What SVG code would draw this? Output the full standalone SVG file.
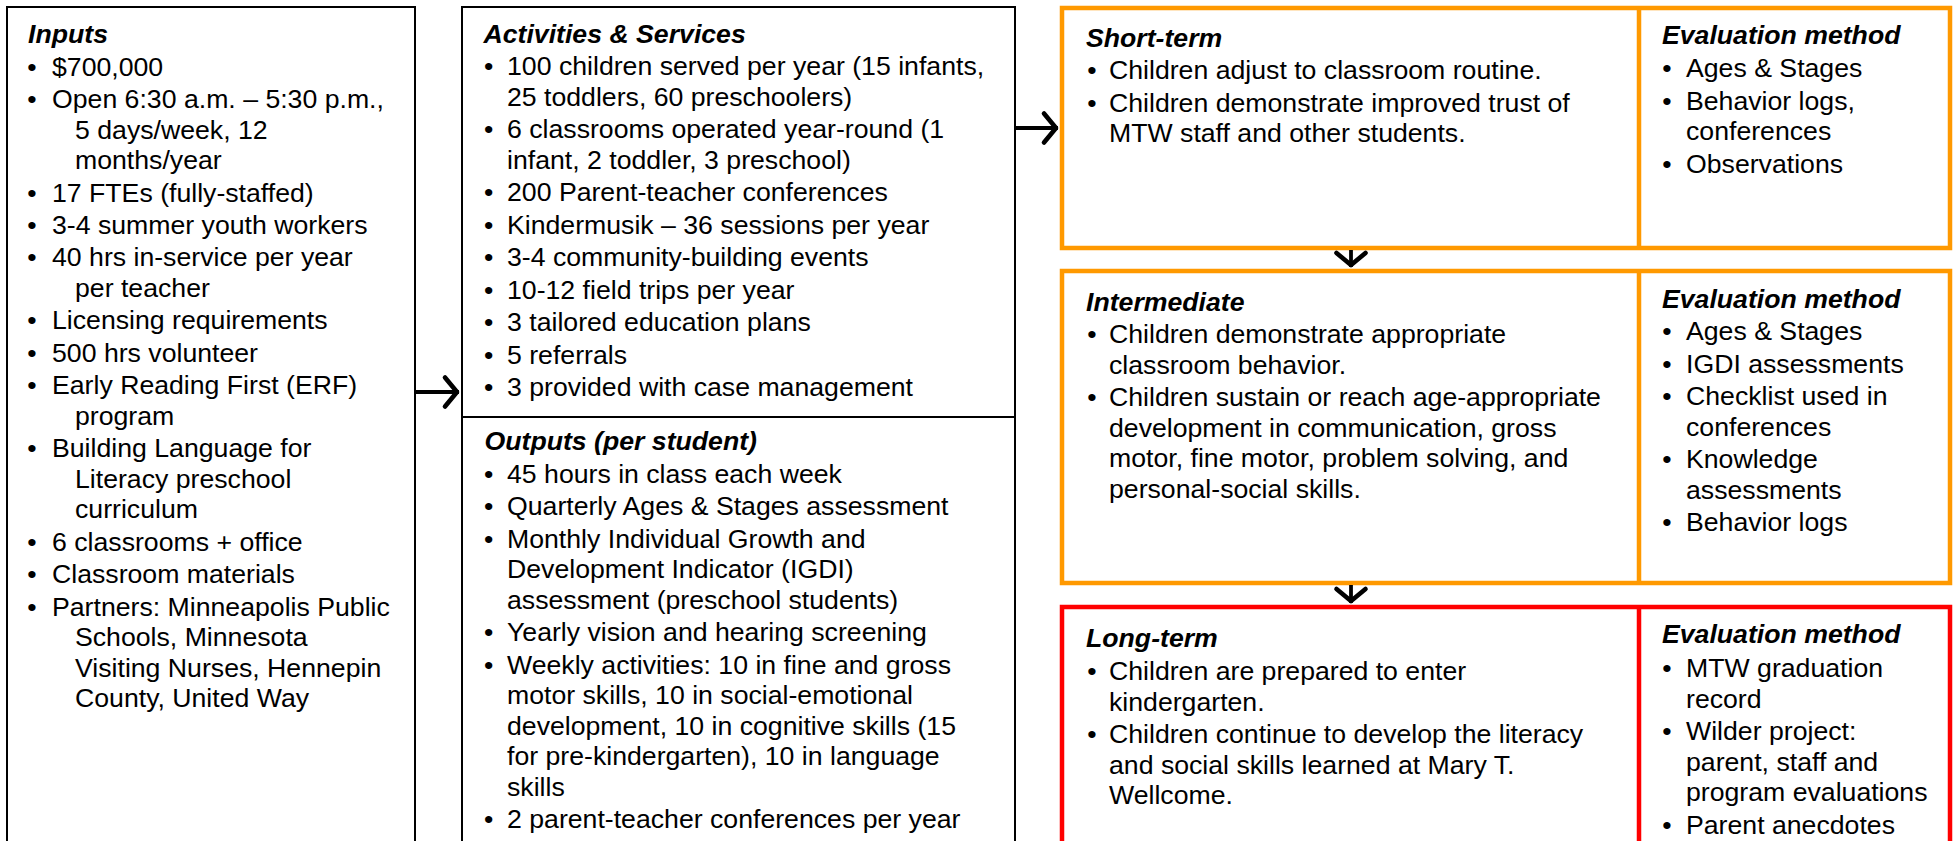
<svg xmlns="http://www.w3.org/2000/svg" width="1960" height="841" viewBox="0 0 1960 841">
<defs>
<style>
text{font-family:"Liberation Sans",Arial,sans-serif;font-size:26.67px;fill:#000}
.t{font-weight:bold;font-style:italic}
.box{fill:#fff;stroke:#000;stroke-width:2}
.or{fill:#fff;stroke:#FF9900;stroke-width:4.5}
.rd{fill:#fff;stroke:#FF0000;stroke-width:4.5}
.con{stroke:#000;stroke-width:3.8;fill:none}
</style>
<marker id="ah" viewBox="-18 -18 20 36" refX="0" refY="0" markerWidth="20" markerHeight="36" markerUnits="userSpaceOnUse" orient="auto">
<path d="M-14,-14.5 L-2,0 L-14,14.5" fill="none" stroke="#000" stroke-width="4.6" stroke-linecap="round" stroke-linejoin="round"/>
</marker>
</defs>
<rect width="1960" height="841" fill="#fff"/>

<g id="inputs">
<rect class="box" x="7" y="7" width="408" height="900"/>
<text class="t" x="28" y="43">Inputs</text>
<text>
<tspan x="27.3" y="76">•</tspan><tspan x="52" y="76">$700,000</tspan>
<tspan x="27.3" y="108">•</tspan><tspan x="52" y="108">Open 6:30 a.m. – 5:30 p.m.,</tspan>
<tspan x="75" y="138.5">5 days/week, 12</tspan>
<tspan x="75" y="169">months/year</tspan>
<tspan x="27.3" y="201.5">•</tspan><tspan x="52" y="201.5">17 FTEs (fully-staffed)</tspan>
<tspan x="27.3" y="234">•</tspan><tspan x="52" y="234">3-4 summer youth workers</tspan>
<tspan x="27.3" y="266">•</tspan><tspan x="52" y="266">40 hrs in-service per year</tspan>
<tspan x="75" y="297">per teacher</tspan>
<tspan x="27.3" y="329">•</tspan><tspan x="52" y="329">Licensing requirements</tspan>
<tspan x="27.3" y="362">•</tspan><tspan x="52" y="362">500 hrs volunteer</tspan>
<tspan x="27.3" y="394">•</tspan><tspan x="52" y="394">Early Reading First (ERF)</tspan>
<tspan x="75" y="424.5">program</tspan>
<tspan x="27.3" y="457">•</tspan><tspan x="52" y="457">Building Language for</tspan>
<tspan x="75" y="487.5">Literacy preschool</tspan>
<tspan x="75" y="518">curriculum</tspan>
<tspan x="27.3" y="550.5">•</tspan><tspan x="52" y="550.5">6 classrooms + office</tspan>
<tspan x="27.3" y="583">•</tspan><tspan x="52" y="583">Classroom materials</tspan>
<tspan x="27.3" y="615.5">•</tspan><tspan x="52" y="615.5">Partners: Minneapolis Public</tspan>
<tspan x="75" y="646">Schools, Minnesota</tspan>
<tspan x="75" y="676.5">Visiting Nurses, Hennepin</tspan>
<tspan x="75" y="707">County, United Way</tspan>
</text>
</g>

<g id="activities">
<rect class="box" x="462" y="7" width="553" height="900"/>
<line x1="462" y1="417" x2="1015" y2="417" stroke="#000" stroke-width="2"/>
<text class="t" x="483.5" y="43">Activities &amp; Services</text>
<text>
<tspan x="484" y="75">•</tspan><tspan x="507" y="75">100 children served per year (15 infants,</tspan>
<tspan x="507" y="105.5">25 toddlers, 60 preschoolers)</tspan>
<tspan x="484" y="138">•</tspan><tspan x="507" y="138">6 classrooms operated year-round (1</tspan>
<tspan x="507" y="168.5">infant, 2 toddler, 3 preschool)</tspan>
<tspan x="484" y="201">•</tspan><tspan x="507" y="201">200 Parent-teacher conferences</tspan>
<tspan x="484" y="233.5">•</tspan><tspan x="507" y="233.5">Kindermusik – 36 sessions per year</tspan>
<tspan x="484" y="266">•</tspan><tspan x="507" y="266">3-4 community-building events</tspan>
<tspan x="484" y="298.5">•</tspan><tspan x="507" y="298.5">10-12 field trips per year</tspan>
<tspan x="484" y="331">•</tspan><tspan x="507" y="331">3 tailored education plans</tspan>
<tspan x="484" y="363.5">•</tspan><tspan x="507" y="363.5">5 referrals</tspan>
<tspan x="484" y="396">•</tspan><tspan x="507" y="396">3 provided with case management</tspan>
</text>
</g>

<g id="outputs">
<text class="t" x="484.5" y="450">Outputs (per student)</text>
<text>
<tspan x="484" y="483">•</tspan><tspan x="507" y="483">45 hours in class each week</tspan>
<tspan x="484" y="515.4">•</tspan><tspan x="507" y="515.4">Quarterly Ages &amp; Stages assessment</tspan>
<tspan x="484" y="547.8">•</tspan><tspan x="507" y="547.8">Monthly Individual Growth and</tspan>
<tspan x="507" y="578.3">Development Indicator (IGDI)</tspan>
<tspan x="507" y="608.8">assessment (preschool students)</tspan>
<tspan x="484" y="641.2">•</tspan><tspan x="507" y="641.2">Yearly vision and hearing screening</tspan>
<tspan x="484" y="673.6">•</tspan><tspan x="507" y="673.6">Weekly activities: 10 in fine and gross</tspan>
<tspan x="507" y="704.1">motor skills, 10 in social-emotional</tspan>
<tspan x="507" y="734.6">development, 10 in cognitive skills (15</tspan>
<tspan x="507" y="765.1">for pre-kindergarten), 10 in language</tspan>
<tspan x="507" y="795.6">skills</tspan>
<tspan x="484" y="828">•</tspan><tspan x="507" y="828">2 parent-teacher conferences per year</tspan>
</text>
</g>

<g id="short-term">
<rect class="or" x="1062" y="8" width="888" height="240"/>
<line x1="1639" y1="8" x2="1639" y2="248" stroke="#FF9900" stroke-width="4.5"/>
<text class="t" x="1086" y="47">Short-term</text>
<text>
<tspan x="1087.3" y="79">•</tspan><tspan x="1109" y="79">Children adjust to classroom routine.</tspan>
<tspan x="1087.3" y="111.5">•</tspan><tspan x="1109" y="111.5">Children demonstrate improved trust of</tspan>
<tspan x="1109" y="142">MTW staff and other students.</tspan>
</text>
<text class="t" x="1662" y="44">Evaluation method</text>
<text>
<tspan x="1662.3" y="77">•</tspan><tspan x="1686" y="77">Ages &amp; Stages</tspan>
<tspan x="1662.3" y="109.5">•</tspan><tspan x="1686" y="109.5">Behavior logs,</tspan>
<tspan x="1686" y="140">conferences</tspan>
<tspan x="1662.3" y="172.5">•</tspan><tspan x="1686" y="172.5">Observations</tspan>
</text>
</g>

<g id="intermediate">
<rect class="or" x="1062" y="271" width="888" height="312"/>
<line x1="1639" y1="271" x2="1639" y2="583" stroke="#FF9900" stroke-width="4.5"/>
<text class="t" x="1086" y="311">Intermediate</text>
<text>
<tspan x="1087.3" y="343">•</tspan><tspan x="1109" y="343">Children demonstrate appropriate</tspan>
<tspan x="1109" y="373.5">classroom behavior.</tspan>
<tspan x="1087.3" y="406">•</tspan><tspan x="1109" y="406">Children sustain or reach age-appropriate</tspan>
<tspan x="1109" y="436.5">development in communication, gross</tspan>
<tspan x="1109" y="467">motor, fine motor, problem solving, and</tspan>
<tspan x="1109" y="497.5">personal-social skills.</tspan>
</text>
<text class="t" x="1662" y="308">Evaluation method</text>
<text>
<tspan x="1662.3" y="340">•</tspan><tspan x="1686" y="340">Ages &amp; Stages</tspan>
<tspan x="1662.3" y="372.5">•</tspan><tspan x="1686" y="372.5">IGDI assessments</tspan>
<tspan x="1662.3" y="405">•</tspan><tspan x="1686" y="405">Checklist used in</tspan>
<tspan x="1686" y="435.5">conferences</tspan>
<tspan x="1662.3" y="468">•</tspan><tspan x="1686" y="468">Knowledge</tspan>
<tspan x="1686" y="498.5">assessments</tspan>
<tspan x="1662.3" y="531">•</tspan><tspan x="1686" y="531">Behavior logs</tspan>
</text>
</g>

<g id="long-term">
<rect class="rd" x="1062" y="607" width="888" height="300"/>
<line x1="1639" y1="607" x2="1639" y2="900" stroke="#FF0000" stroke-width="4.5"/>
<text class="t" x="1086" y="647">Long-term</text>
<text>
<tspan x="1087.3" y="680">•</tspan><tspan x="1109" y="680">Children are prepared to enter</tspan>
<tspan x="1109" y="710.5">kindergarten.</tspan>
<tspan x="1087.3" y="743">•</tspan><tspan x="1109" y="743">Children continue to develop the literacy</tspan>
<tspan x="1109" y="773.5">and social skills learned at Mary T.</tspan>
<tspan x="1109" y="804">Wellcome.</tspan>
</text>
<text class="t" x="1662" y="643">Evaluation method</text>
<text>
<tspan x="1662.3" y="677">•</tspan><tspan x="1686" y="677">MTW graduation</tspan>
<tspan x="1686" y="707.5">record</tspan>
<tspan x="1662.3" y="740">•</tspan><tspan x="1686" y="740">Wilder project:</tspan>
<tspan x="1686" y="770.5">parent, staff and</tspan>
<tspan x="1686" y="801">program evaluations</tspan>
<tspan x="1662.3" y="833.5">•</tspan><tspan x="1686" y="833.5">Parent anecdotes</tspan>
</text>
</g>

<g id="connectors">
<line class="con" x1="416" y1="392" x2="459" y2="392" marker-end="url(#ah)"/>
<line class="con" x1="1016" y1="128" x2="1058" y2="128" marker-end="url(#ah)"/>
<line class="con" x1="1351" y1="250" x2="1351" y2="267" marker-end="url(#ah)"/>
<line class="con" x1="1351" y1="585" x2="1351" y2="603" marker-end="url(#ah)"/>
</g>
</svg>
